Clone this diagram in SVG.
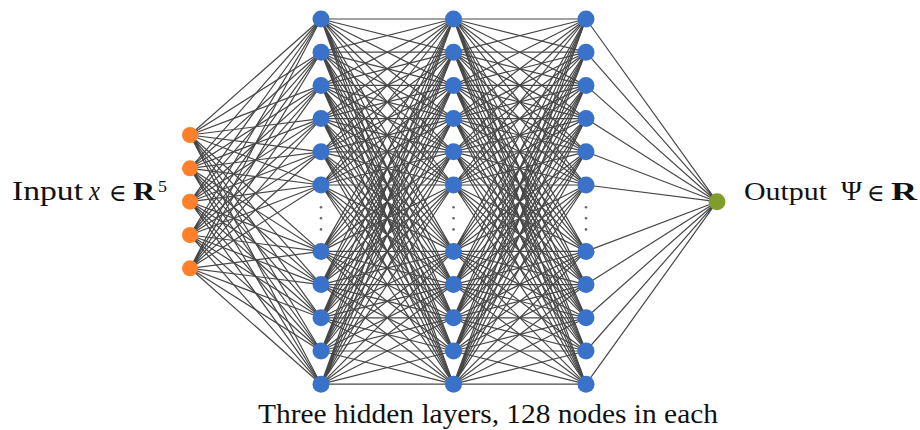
<svg xmlns="http://www.w3.org/2000/svg" width="920" height="430" viewBox="0 0 920 430">
<style>
.c{fill:none;stroke:#474747;stroke-width:1.2}
.in{fill:#ff7f2a}
.h{fill:#3a71c9}
.out{fill:#7f9c2c}
.dot{fill:#6b6b5e}
.t{font-family:"Liberation Serif","DejaVu Serif",serif;fill:#111}
.el{font-family:"DejaVu Serif",serif;font-size:24px}
</style>
<rect width="920" height="430" fill="#fff"/>
<g id="connectors">
<path class="c" d="M190 135L321 19M190 135L321 52.2M190 135L321 85.4M190 135L321 118.6M190 135L321 151.8M190 135L321 185M190 135L321 251.4M190 135L321 284.6M190 135L321 317.8M190 135L321 351M190 135L321 384.2"/>
<path class="c" d="M190 168.3L321 19M190 168.3L321 52.2M190 168.3L321 85.4M190 168.3L321 118.6M190 168.3L321 151.8M190 168.3L321 185M190 168.3L321 251.4M190 168.3L321 284.6M190 168.3L321 317.8M190 168.3L321 351M190 168.3L321 384.2"/>
<path class="c" d="M190 201.7L321 19M190 201.7L321 52.2M190 201.7L321 85.4M190 201.7L321 118.6M190 201.7L321 151.8M190 201.7L321 185M190 201.7L321 251.4M190 201.7L321 284.6M190 201.7L321 317.8M190 201.7L321 351M190 201.7L321 384.2"/>
<path class="c" d="M190 235L321 19M190 235L321 52.2M190 235L321 85.4M190 235L321 118.6M190 235L321 151.8M190 235L321 185M190 235L321 251.4M190 235L321 284.6M190 235L321 317.8M190 235L321 351M190 235L321 384.2"/>
<path class="c" d="M190 268.3L321 19M190 268.3L321 52.2M190 268.3L321 85.4M190 268.3L321 118.6M190 268.3L321 151.8M190 268.3L321 185M190 268.3L321 251.4M190 268.3L321 284.6M190 268.3L321 317.8M190 268.3L321 351M190 268.3L321 384.2"/>

<path class="c" d="M321 19L453.5 19M321 19L453.5 52.2M321 19L453.5 85.4M321 19L453.5 118.6M321 19L453.5 151.8M321 19L453.5 185M321 19L453.5 251.4M321 19L453.5 284.6M321 19L453.5 317.8M321 19L453.5 351M321 19L453.5 384.2"/>
<path class="c" d="M321 52.2L453.5 19M321 52.2L453.5 52.2M321 52.2L453.5 85.4M321 52.2L453.5 118.6M321 52.2L453.5 151.8M321 52.2L453.5 185M321 52.2L453.5 251.4M321 52.2L453.5 284.6M321 52.2L453.5 317.8M321 52.2L453.5 351M321 52.2L453.5 384.2"/>
<path class="c" d="M321 85.4L453.5 19M321 85.4L453.5 52.2M321 85.4L453.5 85.4M321 85.4L453.5 118.6M321 85.4L453.5 151.8M321 85.4L453.5 185M321 85.4L453.5 251.4M321 85.4L453.5 284.6M321 85.4L453.5 317.8M321 85.4L453.5 351M321 85.4L453.5 384.2"/>
<path class="c" d="M321 118.6L453.5 19M321 118.6L453.5 52.2M321 118.6L453.5 85.4M321 118.6L453.5 118.6M321 118.6L453.5 151.8M321 118.6L453.5 185M321 118.6L453.5 251.4M321 118.6L453.5 284.6M321 118.6L453.5 317.8M321 118.6L453.5 351M321 118.6L453.5 384.2"/>
<path class="c" d="M321 151.8L453.5 19M321 151.8L453.5 52.2M321 151.8L453.5 85.4M321 151.8L453.5 118.6M321 151.8L453.5 151.8M321 151.8L453.5 185M321 151.8L453.5 251.4M321 151.8L453.5 284.6M321 151.8L453.5 317.8M321 151.8L453.5 351M321 151.8L453.5 384.2"/>
<path class="c" d="M321 185L453.5 19M321 185L453.5 52.2M321 185L453.5 85.4M321 185L453.5 118.6M321 185L453.5 151.8M321 185L453.5 185M321 185L453.5 251.4M321 185L453.5 284.6M321 185L453.5 317.8M321 185L453.5 351M321 185L453.5 384.2"/>
<path class="c" d="M321 251.4L453.5 19M321 251.4L453.5 52.2M321 251.4L453.5 85.4M321 251.4L453.5 118.6M321 251.4L453.5 151.8M321 251.4L453.5 185M321 251.4L453.5 251.4M321 251.4L453.5 284.6M321 251.4L453.5 317.8M321 251.4L453.5 351M321 251.4L453.5 384.2"/>
<path class="c" d="M321 284.6L453.5 19M321 284.6L453.5 52.2M321 284.6L453.5 85.4M321 284.6L453.5 118.6M321 284.6L453.5 151.8M321 284.6L453.5 185M321 284.6L453.5 251.4M321 284.6L453.5 284.6M321 284.6L453.5 317.8M321 284.6L453.5 351M321 284.6L453.5 384.2"/>
<path class="c" d="M321 317.8L453.5 19M321 317.8L453.5 52.2M321 317.8L453.5 85.4M321 317.8L453.5 118.6M321 317.8L453.5 151.8M321 317.8L453.5 185M321 317.8L453.5 251.4M321 317.8L453.5 284.6M321 317.8L453.5 317.8M321 317.8L453.5 351M321 317.8L453.5 384.2"/>
<path class="c" d="M321 351L453.5 19M321 351L453.5 52.2M321 351L453.5 85.4M321 351L453.5 118.6M321 351L453.5 151.8M321 351L453.5 185M321 351L453.5 251.4M321 351L453.5 284.6M321 351L453.5 317.8M321 351L453.5 351M321 351L453.5 384.2"/>
<path class="c" d="M321 384.2L453.5 19M321 384.2L453.5 52.2M321 384.2L453.5 85.4M321 384.2L453.5 118.6M321 384.2L453.5 151.8M321 384.2L453.5 185M321 384.2L453.5 251.4M321 384.2L453.5 284.6M321 384.2L453.5 317.8M321 384.2L453.5 351M321 384.2L453.5 384.2"/>

<path class="c" d="M453.5 19L586 19M453.5 19L586 52.2M453.5 19L586 85.4M453.5 19L586 118.6M453.5 19L586 151.8M453.5 19L586 185M453.5 19L586 251.4M453.5 19L586 284.6M453.5 19L586 317.8M453.5 19L586 351M453.5 19L586 384.2"/>
<path class="c" d="M453.5 52.2L586 19M453.5 52.2L586 52.2M453.5 52.2L586 85.4M453.5 52.2L586 118.6M453.5 52.2L586 151.8M453.5 52.2L586 185M453.5 52.2L586 251.4M453.5 52.2L586 284.6M453.5 52.2L586 317.8M453.5 52.2L586 351M453.5 52.2L586 384.2"/>
<path class="c" d="M453.5 85.4L586 19M453.5 85.4L586 52.2M453.5 85.4L586 85.4M453.5 85.4L586 118.6M453.5 85.4L586 151.8M453.5 85.4L586 185M453.5 85.4L586 251.4M453.5 85.4L586 284.6M453.5 85.4L586 317.8M453.5 85.4L586 351M453.5 85.4L586 384.2"/>
<path class="c" d="M453.5 118.6L586 19M453.5 118.6L586 52.2M453.5 118.6L586 85.4M453.5 118.6L586 118.6M453.5 118.6L586 151.8M453.5 118.6L586 185M453.5 118.6L586 251.4M453.5 118.6L586 284.6M453.5 118.6L586 317.8M453.5 118.6L586 351M453.5 118.6L586 384.2"/>
<path class="c" d="M453.5 151.8L586 19M453.5 151.8L586 52.2M453.5 151.8L586 85.4M453.5 151.8L586 118.6M453.5 151.8L586 151.8M453.5 151.8L586 185M453.5 151.8L586 251.4M453.5 151.8L586 284.6M453.5 151.8L586 317.8M453.5 151.8L586 351M453.5 151.8L586 384.2"/>
<path class="c" d="M453.5 185L586 19M453.5 185L586 52.2M453.5 185L586 85.4M453.5 185L586 118.6M453.5 185L586 151.8M453.5 185L586 185M453.5 185L586 251.4M453.5 185L586 284.6M453.5 185L586 317.8M453.5 185L586 351M453.5 185L586 384.2"/>
<path class="c" d="M453.5 251.4L586 19M453.5 251.4L586 52.2M453.5 251.4L586 85.4M453.5 251.4L586 118.6M453.5 251.4L586 151.8M453.5 251.4L586 185M453.5 251.4L586 251.4M453.5 251.4L586 284.6M453.5 251.4L586 317.8M453.5 251.4L586 351M453.5 251.4L586 384.2"/>
<path class="c" d="M453.5 284.6L586 19M453.5 284.6L586 52.2M453.5 284.6L586 85.4M453.5 284.6L586 118.6M453.5 284.6L586 151.8M453.5 284.6L586 185M453.5 284.6L586 251.4M453.5 284.6L586 284.6M453.5 284.6L586 317.8M453.5 284.6L586 351M453.5 284.6L586 384.2"/>
<path class="c" d="M453.5 317.8L586 19M453.5 317.8L586 52.2M453.5 317.8L586 85.4M453.5 317.8L586 118.6M453.5 317.8L586 151.8M453.5 317.8L586 185M453.5 317.8L586 251.4M453.5 317.8L586 284.6M453.5 317.8L586 317.8M453.5 317.8L586 351M453.5 317.8L586 384.2"/>
<path class="c" d="M453.5 351L586 19M453.5 351L586 52.2M453.5 351L586 85.4M453.5 351L586 118.6M453.5 351L586 151.8M453.5 351L586 185M453.5 351L586 251.4M453.5 351L586 284.6M453.5 351L586 317.8M453.5 351L586 351M453.5 351L586 384.2"/>
<path class="c" d="M453.5 384.2L586 19M453.5 384.2L586 52.2M453.5 384.2L586 85.4M453.5 384.2L586 118.6M453.5 384.2L586 151.8M453.5 384.2L586 185M453.5 384.2L586 251.4M453.5 384.2L586 284.6M453.5 384.2L586 317.8M453.5 384.2L586 351M453.5 384.2L586 384.2"/>

<path class="c" d="M586 19L717 201.7M586 52.2L717 201.7M586 85.4L717 201.7M586 118.6L717 201.7M586 151.8L717 201.7M586 185L717 201.7M586 251.4L717 201.7M586 284.6L717 201.7M586 317.8L717 201.7M586 351L717 201.7M586 384.2L717 201.7"/>
</g>

<g id="input-nodes">
<g id="in1"><circle class="in" cx="190" cy="135" r="8"/></g>
<g id="in2"><circle class="in" cx="190" cy="168.3" r="8"/></g>
<g id="in3"><circle class="in" cx="190" cy="201.7" r="8"/></g>
<g id="in4"><circle class="in" cx="190" cy="235" r="8"/></g>
<g id="in5"><circle class="in" cx="190" cy="268.3" r="8"/></g>
</g>

<g id="hidden1">
<g id="h1n1"><circle class="h" cx="321" cy="19" r="8.5"/></g>
<g id="h1n2"><circle class="h" cx="321" cy="52.2" r="8.5"/></g>
<g id="h1n3"><circle class="h" cx="321" cy="85.4" r="8.5"/></g>
<g id="h1n4"><circle class="h" cx="321" cy="118.6" r="8.5"/></g>
<g id="h1n5"><circle class="h" cx="321" cy="151.8" r="8.5"/></g>
<g id="h1n6"><circle class="h" cx="321" cy="185" r="8.5"/></g>
<g id="h1dots"><circle class="dot" cx="321" cy="207.2" r="1.3"/><circle class="dot" cx="321" cy="218.2" r="1.3"/><circle class="dot" cx="321" cy="229.4" r="1.3"/></g>
<g id="h1n7"><circle class="h" cx="321" cy="251.4" r="8.5"/></g>
<g id="h1n8"><circle class="h" cx="321" cy="284.6" r="8.5"/></g>
<g id="h1n9"><circle class="h" cx="321" cy="317.8" r="8.5"/></g>
<g id="h1n10"><circle class="h" cx="321" cy="351" r="8.5"/></g>
<g id="h1n11"><circle class="h" cx="321" cy="384.2" r="8.5"/></g>
</g>

<g id="hidden2">
<g id="h2n1"><circle class="h" cx="453.5" cy="19" r="8.5"/></g>
<g id="h2n2"><circle class="h" cx="453.5" cy="52.2" r="8.5"/></g>
<g id="h2n3"><circle class="h" cx="453.5" cy="85.4" r="8.5"/></g>
<g id="h2n4"><circle class="h" cx="453.5" cy="118.6" r="8.5"/></g>
<g id="h2n5"><circle class="h" cx="453.5" cy="151.8" r="8.5"/></g>
<g id="h2n6"><circle class="h" cx="453.5" cy="185" r="8.5"/></g>
<g id="h2dots"><circle class="dot" cx="453.5" cy="207.2" r="1.3"/><circle class="dot" cx="453.5" cy="218.2" r="1.3"/><circle class="dot" cx="453.5" cy="229.4" r="1.3"/></g>
<g id="h2n7"><circle class="h" cx="453.5" cy="251.4" r="8.5"/></g>
<g id="h2n8"><circle class="h" cx="453.5" cy="284.6" r="8.5"/></g>
<g id="h2n9"><circle class="h" cx="453.5" cy="317.8" r="8.5"/></g>
<g id="h2n10"><circle class="h" cx="453.5" cy="351" r="8.5"/></g>
<g id="h2n11"><circle class="h" cx="453.5" cy="384.2" r="8.5"/></g>
</g>

<g id="hidden3">
<g id="h3n1"><circle class="h" cx="586" cy="19" r="8.5"/></g>
<g id="h3n2"><circle class="h" cx="586" cy="52.2" r="8.5"/></g>
<g id="h3n3"><circle class="h" cx="586" cy="85.4" r="8.5"/></g>
<g id="h3n4"><circle class="h" cx="586" cy="118.6" r="8.5"/></g>
<g id="h3n5"><circle class="h" cx="586" cy="151.8" r="8.5"/></g>
<g id="h3n6"><circle class="h" cx="586" cy="185" r="8.5"/></g>
<g id="h3dots"><circle class="dot" cx="586" cy="207.2" r="1.3"/><circle class="dot" cx="586" cy="218.2" r="1.3"/><circle class="dot" cx="586" cy="229.4" r="1.3"/></g>
<g id="h3n7"><circle class="h" cx="586" cy="251.4" r="8.5"/></g>
<g id="h3n8"><circle class="h" cx="586" cy="284.6" r="8.5"/></g>
<g id="h3n9"><circle class="h" cx="586" cy="317.8" r="8.5"/></g>
<g id="h3n10"><circle class="h" cx="586" cy="351" r="8.5"/></g>
<g id="h3n11"><circle class="h" cx="586" cy="384.2" r="8.5"/></g>
</g>

<g id="output-node"><circle class="out" cx="717" cy="201.7" r="8.5"/></g>

<g id="input-label" class="t">
<text x="12" y="199.5" font-size="27" textLength="71" lengthAdjust="spacingAndGlyphs">Input</text>
<text x="89" y="199.5" font-size="27" font-style="italic" textLength="11" lengthAdjust="spacingAndGlyphs">x</text>
<text class="el" x="109" y="200.5">∈</text>
<text x="133" y="199.5" font-size="26" font-weight="bold" textLength="22" lengthAdjust="spacingAndGlyphs">R</text>
<text x="158" y="191.5" font-size="16" textLength="9" lengthAdjust="spacingAndGlyphs">5</text>
</g>

<g id="output-label" class="t">
<text x="744" y="199.5" font-size="26" textLength="83" lengthAdjust="spacingAndGlyphs">Output</text>
<text x="841" y="200" font-size="27" textLength="21" lengthAdjust="spacingAndGlyphs">Ψ</text>
<text class="el" x="867" y="200.5">∈</text>
<text x="891" y="199.5" font-size="26" font-weight="bold" textLength="26" lengthAdjust="spacingAndGlyphs">R</text>
</g>

<g id="caption" class="t">
<text x="258" y="423" font-size="27" textLength="460" lengthAdjust="spacingAndGlyphs">Three hidden layers, 128 nodes in each</text>
</g>
</svg>
